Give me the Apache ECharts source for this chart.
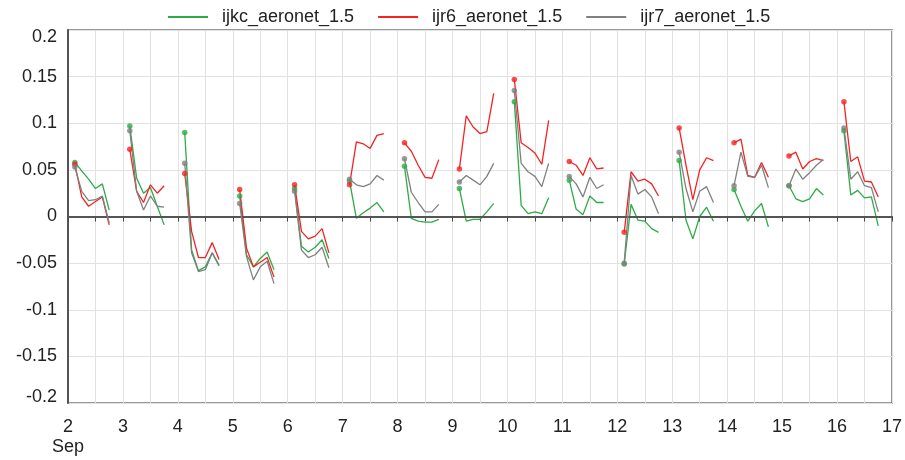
<!DOCTYPE html>
<html>
<head>
<meta charset="utf-8">
<script src="https://cdn.jsdelivr.net/npm/echarts@6/dist/echarts.min.js"></script>
<style>html,body{margin:0;padding:0;background:#fff}#c{width:905px;height:460px}</style>
</head>
<body>
<div id="c"></div>
<script>
// Days (Sep) and observation offsets within each day (fraction of day)
const days = [2, 3, 4, 5, 6, 7, 8, 9, 10, 11, 12, 13, 14, 15, 16];
const offsets = [0.125, 0.25, 0.375, 0.5, 0.625, 0.75];
const seriesNames = ['ijkc_aeronet_1.5', 'ijr6_aeronet_1.5', 'ijr7_aeronet_1.5'];
const yTicks = [-0.2, -0.15, -0.1, -0.05, 0, 0.05, 0.1, 0.15, 0.2];

const ijkc = [
  [0.058, 0.049, 0.040, 0.030, 0.035, 0.007],
  [0.097, 0.041, 0.025, 0.031, 0.011, -0.009],
  [0.090, -0.036, -0.058, -0.054, -0.039, -0.053],
  [0.022, -0.041, -0.054, -0.045, -0.038, -0.057],
  [0.030, -0.032, -0.038, -0.033, -0.025, -0.045],
  [0.038, -0.002, 0.004, 0.009, 0.015, 0.005],
  [0.054, -0.002, -0.005, -0.006, -0.006, -0.003],
  [0.030, -0.005, -0.003, -0.003, 0.005, 0.014],
  [0.123, 0.012, 0.003, 0.005, 0.003, 0.020],
  [0.039, 0.008, 0.002, 0.022, 0.015, 0.015],
  [-0.051, 0.013, -0.004, -0.005, -0.013, -0.017],
  [0.060, -0.004, -0.024, 0.000, 0.010, -0.005],
  [0.029, 0.011, -0.005, 0.006, 0.014, -0.011],
  [0.033, 0.019, 0.016, 0.019, 0.030, 0.023],
  [0.092, 0.023, 0.028, 0.020, 0.021, -0.010]
];
const ijr6 = [
  [0.056, 0.021, 0.011, 0.016, 0.021, -0.009],
  [0.072, 0.027, 0.015, 0.034, 0.025, 0.033],
  [0.046, -0.016, -0.044, -0.044, -0.028, -0.046],
  [0.029, -0.034, -0.054, -0.049, -0.044, -0.065],
  [0.034, -0.016, -0.024, -0.021, -0.013, -0.039],
  [0.034, 0.080, 0.078, 0.073, 0.087, 0.089],
  [0.079, 0.070, 0.055, 0.042, 0.041, 0.061],
  [0.051, 0.108, 0.096, 0.089, 0.091, 0.132],
  [0.147, 0.079, 0.074, 0.068, 0.056, 0.103],
  [0.059, 0.055, 0.044, 0.063, 0.051, 0.052],
  [-0.017, 0.048, 0.038, 0.040, 0.035, 0.022],
  [0.095, 0.055, 0.018, 0.050, 0.063, 0.060],
  [0.079, 0.083, 0.044, 0.042, 0.058, 0.042],
  [0.065, 0.069, 0.051, 0.059, 0.062, 0.060],
  [0.123, 0.059, 0.064, 0.038, 0.037, 0.021]
];
const ijr7 = [
  [0.053, 0.027, 0.017, 0.018, 0.022, -0.007],
  [0.092, 0.027, 0.007, 0.022, 0.011, 0.010],
  [0.057, -0.039, -0.059, -0.057, -0.039, -0.052],
  [0.014, -0.043, -0.068, -0.054, -0.048, -0.072],
  [0.027, -0.036, -0.044, -0.041, -0.033, -0.055],
  [0.040, 0.034, 0.032, 0.035, 0.044, 0.039],
  [0.062, 0.026, 0.015, 0.005, 0.005, 0.013],
  [0.037, 0.044, 0.039, 0.034, 0.043, 0.057],
  [0.135, 0.057, 0.048, 0.043, 0.032, 0.057],
  [0.043, 0.035, 0.021, 0.042, 0.030, 0.034],
  [-0.050, 0.044, 0.024, 0.029, 0.021, 0.003],
  [0.069, 0.030, 0.005, 0.027, 0.032, 0.015],
  [0.033, 0.069, 0.043, 0.042, 0.055, 0.031],
  [0.033, 0.051, 0.040, 0.047, 0.055, 0.061],
  [0.095, 0.040, 0.048, 0.033, 0.031, 0.005]
];

const colors = ['#2eaa46', '#f52222', '#808080'];
const allData = [ijkc, ijr6, ijr7];

function lineData(vals) {
  const out = [];
  days.forEach((d, i) => {
    offsets.forEach((o, k) => out.push([d + o, vals[i][k]]));
    out.push([d + 0.9, null]);
  });
  return out;
}
function firstPoints(vals) {
  return days.map((d, i) => [d + offsets[0], vals[i][0]]);
}

const series = [];
allData.forEach((vals, s) => {
  series.push({
    name: seriesNames[s], type: 'line', data: lineData(vals),
    symbol: 'none', showSymbol: false, connectNulls: false,
    lineStyle: { color: colors[s], width: 1.3 },
    itemStyle: { color: colors[s] },
    z: 3 + s,
    markLine: s === 0 ? {
      silent: true, symbol: 'none', label: { show: false },
      lineStyle: { color: '#555', width: 2, type: 'solid' },
      data: [{ yAxis: 0 }]
    } : undefined
  });
});
allData.forEach((vals, s) => {
  series.push({
    name: seriesNames[s] + ' start', type: 'scatter', data: firstPoints(vals),
    symbol: 'circle', symbolSize: 5.5,
    itemStyle: { color: colors[s] }, z: 6 + s
  });
});

const yMax = yTicks[yTicks.length - 1], yMin = yTicks[0];
const chart = echarts.init(document.getElementById('c'));
chart.setOption({
  animation: false,
  textStyle: { fontFamily: 'Liberation Sans, Arial, sans-serif' },
  legend: {
    data: seriesNames.map(n => ({ name: n, icon: 'rect' })),
    left: 168, top: 8, padding: 0, itemWidth: 40, itemHeight: 2, itemGap: 24,
    textStyle: { fontSize: 18, color: '#222', padding: [0, 0, 0, 9] }
  },
  grid: { left: 68, right: 13, top: 30, bottom: 57, show: true, borderColor: '#777', borderWidth: 1.5 },
  xAxis: {
    type: 'value', min: 2, max: 17, interval: 1,
    axisLine: { lineStyle: { color: '#555', width: 2 } },
    axisTick: { show: true, length: 5, lineStyle: { color: '#444' } },
    minorTick: { show: true, splitNumber: 2, length: 5, lineStyle: { color: '#444' } },
    splitLine: { show: true, lineStyle: { color: '#e2e2e2', width: 1 } },
    minorSplitLine: { show: true, lineStyle: { color: '#e2e2e2', width: 1 } },
    axisLabel: {
      fontSize: 18, color: '#222', margin: 14, lineHeight: 20,
      formatter: v => (v === 2 ? '2\nSep' : String(v))
    }
  },
  yAxis: {
    type: 'value', min: yMin, max: yMax, interval: 0.05,
    axisLine: { show: true, lineStyle: { color: '#555', width: 2 } },
    axisTick: { show: false },
    splitLine: { show: true, lineStyle: { color: '#e2e2e2', width: 1 } },
    axisLabel: {
      fontSize: 18, color: '#222', margin: 11,
      formatter: v => {
        const t = String(Math.round(v * 100) / 100);
        if (Math.abs(v - yMax) < 1e-9) return '{top|' + t + '}';
        if (Math.abs(v - yMin) < 1e-9) return '{bot|' + t + '}';
        return t;
      },
      rich: {
        top: { fontSize: 18, color: '#222', padding: [14, 0, 0, 0] },
        bot: { fontSize: 18, color: '#222', padding: [0, 0, 12, 0] }
      }
    }
  },
  series: series
});
</script>
</body>
</html>
